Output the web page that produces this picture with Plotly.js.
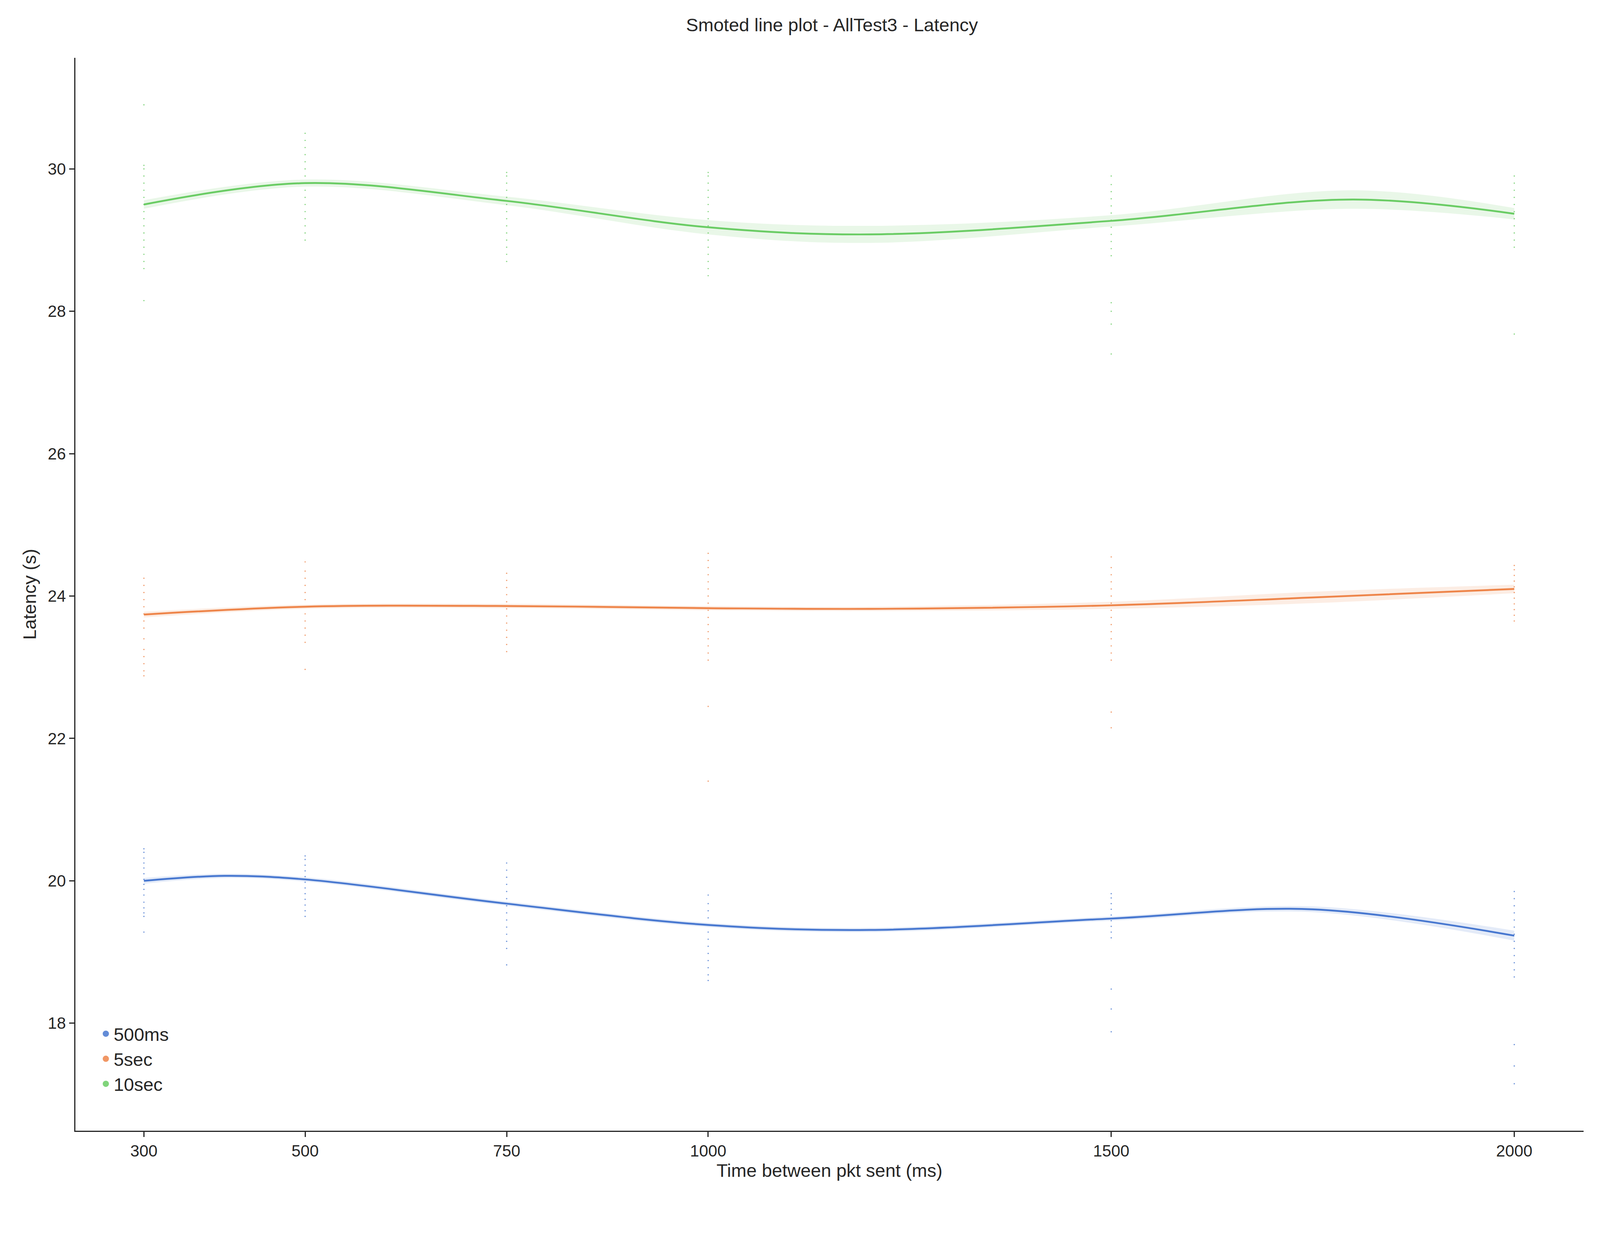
<!DOCTYPE html>
<html>
<head>
<meta charset="utf-8">
<script src="https://cdn.plot.ly/plotly-3.0.1.min.js"></script>
<style>html,body{margin:0;padding:0;background:#fff;overflow:hidden}#plot{width:100vw;height:100vh}</style>
</head>
<body>
<div id="plot"></div>
<script>
/* global Plotly */
const xCats = [300, 500, 750, 1000, 1500, 2000];

// raw samples per x category
const blueSamples = [
  [19.28, 19.5, 19.55, 19.62, 19.7, 19.8, 19.88, 19.95, 20.02, 20.1, 20.18, 20.25, 20.32, 20.4, 20.45],
  [19.5, 19.58, 19.66, 19.74, 19.82, 19.9, 19.98, 20.06, 20.14, 20.22, 20.3, 20.35],
  [18.82, 19.05, 19.15, 19.25, 19.35, 19.45, 19.55, 19.65, 19.75, 19.85, 19.95, 20.05, 20.15, 20.25],
  [18.6, 18.68, 18.78, 18.88, 18.98, 19.08, 19.18, 19.28, 19.38, 19.48, 19.58, 19.68, 19.8],
  [17.88, 18.2, 18.48, 19.2, 19.28, 19.36, 19.44, 19.52, 19.6, 19.68, 19.76, 19.82],
  [17.15, 17.4, 17.7, 18.65, 18.75, 18.85, 18.95, 19.05, 19.15, 19.25, 19.35, 19.45, 19.55, 19.65, 19.75, 19.85]
];
const orangeSamples = [
  [22.88, 22.95, 23.05, 23.15, 23.25, 23.4, 23.55, 23.65, 23.75, 23.85, 23.95, 24.05, 24.15, 24.25],
  [22.97, 23.35, 23.45, 23.55, 23.65, 23.75, 23.85, 23.95, 24.05, 24.15, 24.25, 24.35, 24.48],
  [23.22, 23.32, 23.42, 23.52, 23.62, 23.72, 23.82, 23.92, 24.02, 24.12, 24.22, 24.32],
  [21.4, 22.45, 23.1, 23.2, 23.3, 23.4, 23.5, 23.6, 23.7, 23.8, 23.9, 24.0, 24.1, 24.2, 24.3, 24.4, 24.5, 24.6],
  [22.15, 22.37, 23.1, 23.2, 23.3, 23.4, 23.5, 23.6, 23.7, 23.8, 23.9, 24.0, 24.1, 24.2, 24.3, 24.4, 24.55],
  [23.65, 23.73, 23.81, 23.89, 23.97, 24.05, 24.13, 24.21, 24.29, 24.37, 24.43]
];
const greenSamples = [
  [28.15, 28.6, 28.7, 28.8, 28.9, 29.0, 29.1, 29.2, 29.3, 29.4, 29.5, 29.6, 29.7, 29.8, 29.9, 30.0, 30.05, 30.9],
  [29.0, 29.1, 29.2, 29.3, 29.4, 29.5, 29.6, 29.7, 29.8, 29.9, 30.0, 30.1, 30.2, 30.3, 30.4, 30.5],
  [28.7, 28.8, 28.9, 29.0, 29.1, 29.2, 29.3, 29.4, 29.5, 29.6, 29.7, 29.8, 29.9, 29.95],
  [28.5, 28.6, 28.7, 28.8, 28.9, 29.0, 29.1, 29.2, 29.3, 29.4, 29.5, 29.6, 29.7, 29.8, 29.9, 29.95],
  [27.4, 27.82, 28.0, 28.12, 28.78, 28.88, 28.98, 29.08, 29.18, 29.28, 29.38, 29.48, 29.58, 29.68, 29.78, 29.9],
  [27.68, 28.9, 29.0, 29.1, 29.2, 29.3, 29.4, 29.5, 29.6, 29.7, 29.8, 29.9]
];

// smoothed fit
const blueFitX = [300, 400, 500, 750, 1000, 1200, 1500, 1750, 2000];
const blueFit = [20.0, 20.07, 20.02, 19.68, 19.38, 19.31, 19.47, 19.6, 19.23];
const blueBand = [0.04, 0.03, 0.03, 0.03, 0.03, 0.03, 0.03, 0.04, 0.07];
const orangeFitX = [300, 500, 750, 1000, 1200, 1500, 1750, 2000];
const orangeFit = [23.74, 23.85, 23.86, 23.83, 23.82, 23.87, 23.98, 24.1];
const orangeBand = [0.04, 0.03, 0.03, 0.03, 0.03, 0.05, 0.08, 0.06];
const greenFitX = [300, 500, 750, 1000, 1200, 1500, 1800, 2000];
const greenFit = [29.5, 29.8, 29.55, 29.18, 29.08, 29.27, 29.57, 29.37];
const greenBand = [0.06, 0.05, 0.06, 0.1, 0.12, 0.08, 0.13, 0.08];

const names = ['500ms', '5sec', '10sec'];
const colors = ['#4878d0', '#ee854a', '#6acc64'];
const fills = ['rgba(72,120,208,0.15)', 'rgba(238,133,74,0.15)', 'rgba(106,204,100,0.15)'];

const series = [
  {samples: blueSamples, fx: blueFitX, fy: blueFit, band: blueBand},
  {samples: orangeSamples, fx: orangeFitX, fy: orangeFit, band: orangeBand},
  {samples: greenSamples, fx: greenFitX, fy: greenFit, band: greenBand}
];

const W = window.innerWidth, H = window.innerHeight;
const k = W / 1568; // scale from the 1568px-wide preview

const traces = [];
series.forEach((s, i) => {
  const xs = [], ys = [];
  s.samples.forEach((vals, j) => vals.forEach(v => { xs.push(xCats[j]); ys.push(v); }));
  traces.push({x: xs, y: ys, mode: 'markers', type: 'scatter', name: names[i],
    marker: {color: colors[i], size: 1.3 * k, opacity: 0.8}, showlegend: false});
  traces.push({x: s.fx, y: s.fy.map((v, j) => v + s.band[j]), mode: 'lines',
    line: {width: 0, shape: 'spline'}, showlegend: false, hoverinfo: 'skip'});
  traces.push({x: s.fx, y: s.fy.map((v, j) => v - s.band[j]), mode: 'lines', fill: 'tonexty',
    fillcolor: fills[i], line: {width: 0, shape: 'spline'}, showlegend: false, hoverinfo: 'skip'});
  traces.push({x: s.fx, y: s.fy, mode: 'lines', line: {color: colors[i], width: 1.8 * k, shape: 'spline'},
    showlegend: false});
  // legend entry
  traces.push({x: [null], y: [null], mode: 'markers', name: names[i],
    marker: {color: colors[i], size: 11 * k, opacity: 0.85}});
});

const layout = {
  width: W, height: H,
  font: {family: 'Arial, Liberation Sans, sans-serif', size: 16 * k, color: '#262626'},
  title: {text: 'Smoted line plot - AllTest3 - Latency', font: {size: 18 * k}, x: 0.52, y: 0.985, yanchor: 'top'},
  margin: {l: 74 * k, r: 16 * k, t: 38 * H / 815, b: 70 * H / 815},
  plot_bgcolor: '#fff', paper_bgcolor: '#fff',
  xaxis: {
    title: {text: 'Time between pkt sent (ms)', font: {size: 18 * k}, standoff: 4 * k},
    range: [215, 2086], tickvals: xCats, ticktext: xCats.map(String),
    showgrid: false, zeroline: false, showline: true, linecolor: '#262626', linewidth: k,
    ticks: 'outside', ticklen: 5 * k, tickwidth: k, tickcolor: '#262626'
  },
  yaxis: {
    title: {text: 'Latency (s)', font: {size: 18 * k}, standoff: 6 * k},
    range: [16.49, 31.56], tickvals: [18, 20, 22, 24, 26, 28, 30],
    showgrid: false, zeroline: false, showline: true, linecolor: '#262626', linewidth: k,
    ticks: 'outside', ticklen: 5 * k, tickwidth: k, tickcolor: '#262626'
  },
  legend: {x: 0.015, y: 0.03, xanchor: 'left', yanchor: 'bottom', bgcolor: 'rgba(0,0,0,0)',
    font: {size: 18 * k}, itemsizing: 'trace', traceorder: 'normal', tracegroupgap: 0}
};

Plotly.newPlot('plot', traces, layout, {displayModeBar: false});
</script>
</body>
</html>
